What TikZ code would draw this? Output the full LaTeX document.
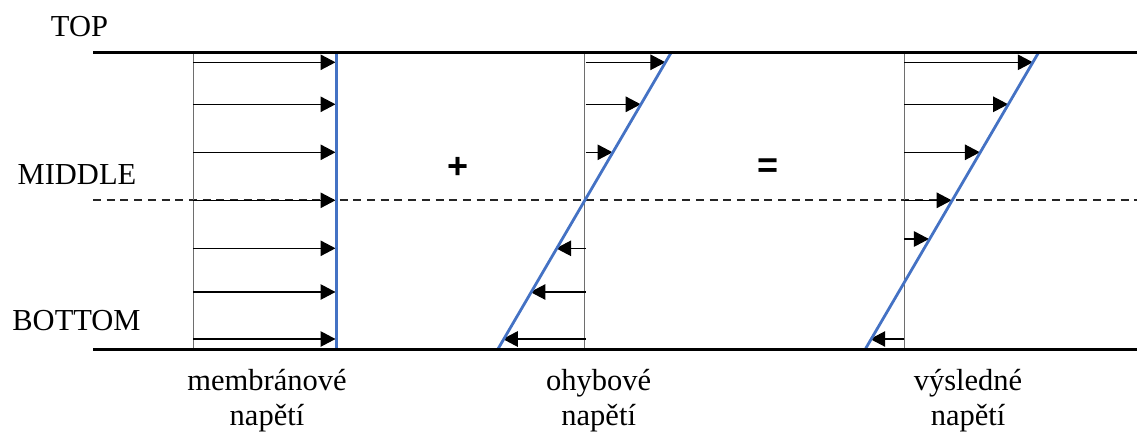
\documentclass[tikz,border=0pt]{standalone}
\usepackage{fontspec}
\setmainfont{Liberation Serif}
\newfontfamily\opfont{Liberation Sans}
\usetikzlibrary{arrows.meta,calc}
\definecolor{stressblue}{HTML}{4472C4}
\definecolor{axisgray}{HTML}{6E6E6E}
\tikzset{
  plate/.style={line width=3pt, black},
  midline/.style={line width=2pt, black!85, dash pattern=on 8pt off 5.7pt},
  axisline/.style={line width=1.4pt, axisgray},
  profile/.style={line width=2.8pt, stressblue},
  stressarrow/.style={line width=1.1pt, black, -{Triangle[length=15pt,width=15.5pt]}},
  lbl/.style={font=\fontsize{30.5}{35}\selectfont, inner sep=0pt, anchor=base},
  captext/.style={font=\fontsize{30.5}{35}\selectfont, inner sep=0pt, anchor=base, align=center},
  opsym/.style={font=\opfont\bfseries\fontsize{36}{36}\selectfont, inner sep=0pt}
}
\begin{document}
\begin{tikzpicture}[x=1pt,y=-1pt]
\useasboundingbox (0,0) rectangle (1137,432);
% plates
\coordinate (TL) at (93,52.3);  \coordinate (TR) at (1137,52.3);
\coordinate (BL) at (93,349.3); \coordinate (BR) at (1137,349.3);
\coordinate (ML) at (93,200.3); \coordinate (MR) at (1137,200.3);
\draw[midline] (ML) -- (MR);
% axes
\coordinate (A1t) at (193.3,52.3); \coordinate (A1b) at (193.3,349.3);
\coordinate (A2t) at (584.3,52.3); \coordinate (A2b) at (584.3,349.3);
\coordinate (A3t) at (904.3,52.3); \coordinate (A3b) at (904.3,349.3);
\draw[axisline] (A1t) -- (A1b);
\draw[axisline] (A2t) -- (A2b);
\draw[axisline] (A3t) -- (A3b);
% membrane stress arrows
\foreach \y [count=\i] in {62.3,104.3,152.3,200.3,248.3,292,339}{
  \coordinate (m\i s) at (193.3,\y);
  \coordinate (m\i e) at (335.5,\y);
  \draw[stressarrow] (m\i s) -- (m\i e);
}
% bending stress arrows
\foreach \y [count=\i] in {62.3,104.3,152.3,248.3,292,339}{
  \pgfmathsetmacro{\xe}{584.3+(200.3-\y)*0.5878}
  \coordinate (b\i s) at (585.5,\y);
  \coordinate (b\i e) at (\xe,\y);
  \draw[stressarrow] (b\i s) -- (b\i e);
}
% resulting stress arrows
\foreach \y [count=\i] in {62.3,104.3,152.3,200.3,239,339}{
  \pgfmathsetmacro{\xe}{951.7+(200.3-\y)*0.5878}
  \coordinate (r\i s) at (904.3,\y);
  \coordinate (r\i e) at (\xe,\y);
  \draw[stressarrow] (r\i s) -- (r\i e);
}
% profiles
\coordinate (P1t) at (336.3,52.3); \coordinate (P1b) at (336.3,349.3);
\coordinate (P2t) at (671.3,52.3); \coordinate (P2b) at (497.8,349.3);
\coordinate (P3t) at (1038.7,52.3); \coordinate (P3b) at (865.2,349.3);
\draw[profile] (P1t) -- (P1b);
\draw[profile] (P2t) -- (P2b);
\draw[profile] (P3t) -- (P3b);
% plates on top
\draw[plate] (TL) -- (TR);
\draw[plate] (BL) -- (BR);
% labels
\node[lbl] (top) at (79.5,36.7) {TOP};
\node[lbl] (mid) at (77,184) {MIDDLE};
\node[lbl] (bot) at (76.5,330) {BOTTOM};
\node[opsym] (plus) at (457.7,167.7) {+};
\node[opsym] (eq) at (768,167.7) {=};
\node[captext] (c1) at (267,425) {membránové\\napětí};
\node[captext] (c2) at (598.7,425) {ohybové\\napětí};
\node[captext] (c3) at (968,425) {výsledné\\napětí};
\end{tikzpicture}
\end{document}
